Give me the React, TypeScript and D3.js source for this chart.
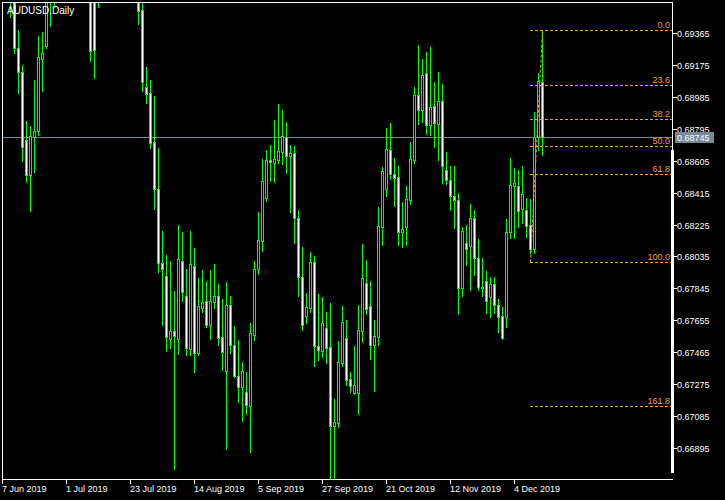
import React from 'react';
import * as d3 from 'd3';

const openP = [
  0.6975, 0.6988, 0.6966, 0.6960, 0.69274, 0.69134, 0.68728, 0.68518, 0.68747, 0.68783,
  0.69212, 0.69289, 0.6966, 0.6962, 0.6985, 0.7000, 0.7010, 0.6975, 0.6990, 0.7020,
  0.7000, 0.6975, 0.6966, 0.6975, 0.6975, 0.6990, 0.7020, 0.7025, 0.7000, 0.7020,
  0.7060, 0.7040, 0.7030, 0.6980, 0.6975, 0.69501, 0.69041, 0.69006, 0.68714, 0.68434,
  0.67999, 0.67916, 0.67545, 0.67589, 0.67545, 0.68006, 0.67797, 0.67486, 0.67976, 0.67462,
  0.67726, 0.67768, 0.67629, 0.67762, 0.67797, 0.67553, 0.67355, 0.67744, 0.67506, 0.67321,
  0.67259, 0.67230, 0.67146, 0.67569, 0.67962, 0.68128, 0.68384, 0.68609, 0.68589, 0.68609,
  0.68658, 0.68746, 0.68634, 0.68650, 0.68262, 0.67914, 0.67682, 0.67730, 0.68002, 0.67502,
  0.67472, 0.67609, 0.67496, 0.67025, 0.67043, 0.67399, 0.67549, 0.67305, 0.67222, 0.67224,
  0.67591, 0.67877, 0.67740, 0.67507, 0.67557, 0.68210, 0.68436, 0.68668, 0.68526, 0.68508,
  0.68180, 0.68210, 0.68371, 0.68609, 0.68994, 0.68905, 0.69125, 0.68815, 0.68930, 0.68823,
  0.68960, 0.68549, 0.68490, 0.68395, 0.68371, 0.67847, 0.68115, 0.68097, 0.68263, 0.68025,
  0.67853, 0.67889, 0.67793, 0.67871, 0.67746, 0.67680, 0.67674, 0.68178, 0.68456, 0.68454,
  0.68315, 0.68311, 0.68220, 0.68081, 0.68746, 0.69073,
];
const highP = [
  0.7000, 0.6998, 0.6985, 0.6966, 0.69382, 0.69174, 0.68841, 0.68811, 0.69085, 0.69347,
  0.69371, 0.6975, 0.6985, 0.6990, 0.7005, 0.7025, 0.7030, 0.7000, 0.7045, 0.7030,
  0.7010, 0.6985, 0.6970, 0.6985, 0.7000, 0.7025, 0.7030, 0.7030, 0.7030, 0.7070,
  0.7080, 0.7050, 0.7035, 0.6990, 0.6985, 0.69541, 0.69164, 0.69085, 0.68991, 0.68682,
  0.68186, 0.68043, 0.68006, 0.67829, 0.68222, 0.68180, 0.67960, 0.68186, 0.68085, 0.67906,
  0.67954, 0.67889, 0.67954, 0.67990, 0.67871, 0.67781, 0.67883, 0.67799, 0.67621, 0.67537,
  0.67406, 0.67347, 0.67637, 0.68006, 0.68299, 0.68615, 0.68668, 0.68698, 0.68847, 0.68942,
  0.68906, 0.68835, 0.68698, 0.68692, 0.68311, 0.68091, 0.67817, 0.68061, 0.68037, 0.67811,
  0.67793, 0.67704, 0.67758, 0.67186, 0.67531, 0.67740, 0.67657, 0.67347, 0.67502, 0.67746,
  0.68109, 0.68014, 0.67889, 0.67657, 0.68329, 0.68567, 0.68799, 0.68829, 0.68621, 0.68573,
  0.68359, 0.68454, 0.68716, 0.69043, 0.69293, 0.69210, 0.69251, 0.69281, 0.69073, 0.69133,
  0.69061, 0.68656, 0.68573, 0.68573, 0.68412, 0.68210, 0.68222, 0.68347, 0.68311, 0.68138,
  0.68025, 0.67948, 0.67912, 0.67912, 0.67781, 0.67734, 0.68258, 0.68619, 0.68561, 0.68549,
  0.68573, 0.68385, 0.68375, 0.68895, 0.69127, 0.69381,
];
const lowP = [
  0.6962, 0.6962, 0.69460, 0.69244, 0.69006, 0.68605, 0.68480, 0.68307, 0.68539, 0.68757,
  0.69021, 0.69278, 0.69408, 0.69521, 0.6965, 0.6990, 0.6970, 0.6960, 0.6980, 0.6990,
  0.6965, 0.6960, 0.69200, 0.69099, 0.69518, 0.6985, 0.7010, 0.6995, 0.6995, 0.7010,
  0.7035, 0.7020, 0.6975, 0.6960, 0.69418, 0.69021, 0.68946, 0.68682, 0.68317, 0.67944,
  0.67627, 0.67474, 0.67491, 0.66770, 0.67456, 0.67771, 0.67450, 0.67450, 0.67349, 0.67450,
  0.67706, 0.67617, 0.67545, 0.67730, 0.67509, 0.67361, 0.66890, 0.67462, 0.67319, 0.67170,
  0.67057, 0.67099, 0.66873, 0.67539, 0.67930, 0.68067, 0.68365, 0.68484, 0.68478, 0.68591,
  0.68585, 0.68531, 0.68299, 0.68115, 0.67799, 0.67597, 0.67639, 0.67704, 0.67383, 0.67418,
  0.67438, 0.67402, 0.66718, 0.66710, 0.67020, 0.67383, 0.67270, 0.67230, 0.67216, 0.67097,
  0.67525, 0.67692, 0.67424, 0.67234, 0.67507, 0.68103, 0.68394, 0.68496, 0.68335, 0.68103,
  0.68091, 0.68103, 0.68347, 0.68591, 0.68823, 0.68835, 0.68763, 0.68757, 0.68686, 0.68609,
  0.68472, 0.68466, 0.68311, 0.68204, 0.67692, 0.67799, 0.67984, 0.67835, 0.67924, 0.67835,
  0.67799, 0.67698, 0.67674, 0.67698, 0.67587, 0.67541, 0.67616, 0.68143, 0.68145, 0.68208,
  0.68232, 0.68149, 0.68053, 0.68055, 0.68668, 0.68639,
];
const closeP = [
  0.6990, 0.6966, 0.6960, 0.69274, 0.69131, 0.68688, 0.68518, 0.68753, 0.68783, 0.69220,
  0.69244, 0.6966, 0.6962, 0.6985, 0.7000, 0.7020, 0.6975, 0.6990, 0.7020, 0.7000,
  0.6975, 0.6966, 0.69259, 0.69264, 0.6990, 0.7020, 0.7025, 0.7000, 0.7020, 0.7060,
  0.7040, 0.7030, 0.6980, 0.6975, 0.69497, 0.69071, 0.69002, 0.68712, 0.68434, 0.67999,
  0.67958, 0.67553, 0.67589, 0.67559, 0.68018, 0.67825, 0.67491, 0.67988, 0.67462, 0.67738,
  0.67762, 0.67629, 0.67768, 0.67797, 0.67551, 0.67468, 0.67744, 0.67509, 0.67325, 0.67259,
  0.67351, 0.67152, 0.67577, 0.67958, 0.68133, 0.68484, 0.68609, 0.68597, 0.68615, 0.68662,
  0.68752, 0.68634, 0.68650, 0.68262, 0.67914, 0.67627, 0.67734, 0.68002, 0.67502, 0.67478,
  0.67639, 0.67490, 0.67025, 0.67049, 0.67406, 0.67645, 0.67299, 0.67264, 0.67270, 0.67597,
  0.67906, 0.67724, 0.67507, 0.67561, 0.68216, 0.68543, 0.68674, 0.68526, 0.68502, 0.68180,
  0.68198, 0.68377, 0.68615, 0.68994, 0.68905, 0.69113, 0.68815, 0.68922, 0.68827, 0.68960,
  0.68573, 0.68490, 0.68395, 0.68371, 0.67847, 0.68186, 0.68079, 0.68263, 0.68025, 0.67853,
  0.67845, 0.67770, 0.67871, 0.67746, 0.67674, 0.67547, 0.68180, 0.68458, 0.68470, 0.68307,
  0.68406, 0.68218, 0.68079, 0.68746, 0.69079, 0.68745,
];

const xTickIndex = [0, 16, 32, 48, 64, 80, 96, 112, 128];
const xTickLabels = ['7 Jun 2019', '1 Jul 2019', '23 Jul 2019', '14 Aug 2019', '5 Sep 2019', '27 Sep 2019', '21 Oct 2019', '12 Nov 2019', '4 Dec 2019'];
const yTickValues = [0.69365, 0.69175, 0.68985, 0.68795, 0.68605, 0.68415, 0.68225, 0.68035, 0.67845, 0.67655, 0.67465, 0.67275, 0.67085, 0.66895];
const fibLevels = [0, 23.6, 38.2, 50, 61.8, 100, 161.8];
const fibHigh = 0.69381;
const fibLow = 0.68;
const fibHighIndex = 135;
const fibLowIndex = 132;
const lastPrice = 0.68745;
const chartTitle = 'AUDUSD,Daily';

const GREEN = '#00ff00';
const FIB = '#f0a030';
const GRID = '#778899';
const FONT = "'Liberation Sans', Arial, sans-serif";

export default function App() {
  const W = 725, H = 500;
  const left = 2, top = 2, right = 672, bottom = 479;
  const n = openP.length;
  const x = d3.scaleLinear().domain([0, n - 1]).range([2, 2 + 4 * (n - 1)]);
  const y = d3.scaleLinear().domain([0.66895, 0.69365]).range([448, 33]);
  const r = (v: number) => Math.round(y(v));

  const candles = d3.range(n).map((i) => {
    const cx = Math.round(x(i));
    const o = openP[i], c = closeP[i];
    const bull = c >= o;
    const yt = r(Math.max(o, c));
    const yb = r(Math.min(o, c));
    const yh = r(highP[i]);
    const yl = r(lowP[i]);
    return (
      <g key={i}>
        <rect x={cx} y={yh} width={1} height={yl - yh + 1} fill={GREEN} />
        <rect x={cx - 1} y={yt} width={3} height={yb - yt + 1} fill={GREEN} />
        {yb - yt - 1 > 0 && (
          <rect x={cx} y={yt + 1} width={1} height={yb - yt - 1} fill={bull ? '#000' : '#fff'} />
        )}
      </g>
    );
  });

  const fibStartX = x(fibLowIndex);
  const fibPrice = (lvl: number) => fibHigh - (fibHigh - fibLow) * lvl / 100;

  return (
    <svg width={W} height={H} style={{ position: 'fixed', left: 0, top: 0, display: 'block' }} shapeRendering="crispEdges">
      <rect x={0} y={0} width={W} height={H} fill="#000" />
      <defs>
        <clipPath id="plot">
          <rect x={left + 1} y={top + 1} width={right - left - 1} height={bottom - top - 1} />
        </clipPath>
      </defs>
      <g clipPath="url(#plot)">
        {/* last price line */}
        <line x1={left} x2={right} y1={r(lastPrice) + 0.5} y2={r(lastPrice) + 0.5} stroke={GRID} strokeWidth={1} />
        {candles}
        {/* fibonacci levels */}
        {fibLevels.map((lvl) => {
          const yy = r(fibPrice(lvl)) + 0.5;
          return (
            <g key={lvl}>
              <line x1={fibStartX} x2={right} y1={yy} y2={yy} stroke={FIB} strokeWidth={1} strokeDasharray="3,2" />
              <text x={670} y={yy - 3} fill={FIB} fontSize={9} fontFamily={FONT} textAnchor="end" shapeRendering="auto">
                {lvl.toFixed(1)}
              </text>
            </g>
          );
        })}
        <line x1={x(fibLowIndex) + 0.5} y1={y(fibLow)} x2={x(fibHighIndex) + 0.5} y2={y(fibHigh)} stroke={FIB} strokeWidth={1} strokeDasharray="3,2" shapeRendering="auto" />
      </g>

      {/* borders */}
      <line x1={left} x2={right + 1} y1={top + 0.5} y2={top + 0.5} stroke="#fff" />
      <line x1={left + 0.5} x2={left + 0.5} y1={top} y2={bottom + 1} stroke="#fff" />
      <line x1={left} x2={right + 1} y1={bottom + 0.5} y2={bottom + 0.5} stroke="#fff" />
      <line x1={right + 0.5} x2={right + 0.5} y1={top} y2={473} stroke="#fff" />
      <rect x={671} y={150} width={3} height={323} fill="#fff" />

      <text x={7} y={14} fill="#fff" fontSize={10} fontFamily={FONT}>{chartTitle}</text>

      {/* y axis */}
      {yTickValues.map((v) => {
        const yy = r(v);
        return (
          <g key={v}>
            <line x1={673} x2={677} y1={yy + 0.5} y2={yy + 0.5} stroke="#fff" />
            <text x={677} y={yy + 4} fill="#fff" fontSize={9} fontFamily={FONT}>{v.toFixed(5)}</text>
          </g>
        );
      })}
      <rect x={675} y={r(lastPrice) - 5} width={39} height={11} fill={GRID} />
      <text x={677} y={r(lastPrice) + 4} fill="#fff" fontSize={9} fontFamily={FONT}>{lastPrice.toFixed(5)}</text>

      {/* x axis */}
      {xTickIndex.map((k, i) => {
        const xx = Math.round(x(k));
        return (
          <g key={k}>
            <line x1={xx + 0.5} x2={xx + 0.5} y1={480} y2={484} stroke="#fff" />
            <text x={xx} y={492} fill="#fff" fontSize={9} fontFamily={FONT}>{xTickLabels[i]}</text>
          </g>
        );
      })}
    </svg>
  );
}
